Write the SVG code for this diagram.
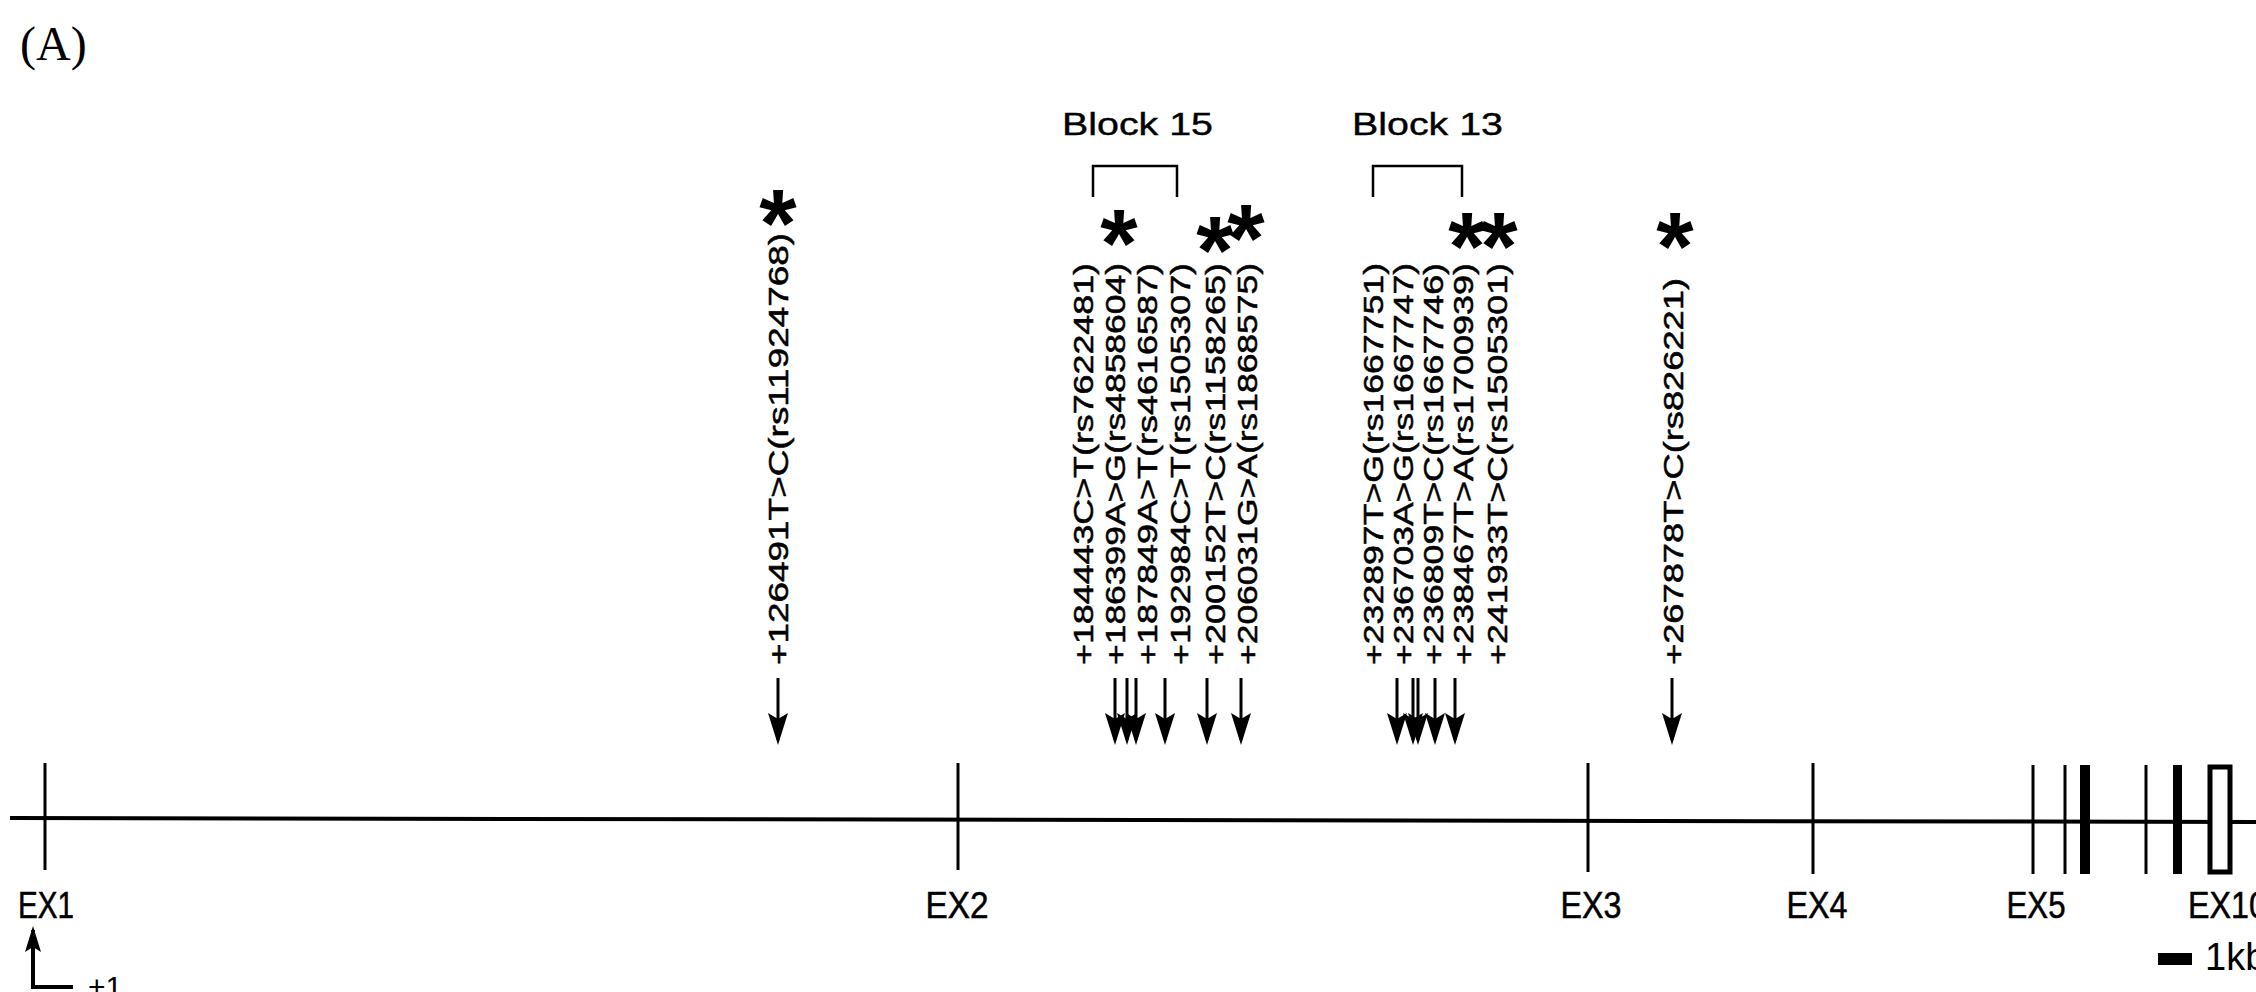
<svg xmlns="http://www.w3.org/2000/svg" width="2256" height="992" viewBox="0 0 2256 992">
<style>
  .ln{stroke:#000;fill:none}
  .tick{stroke:#000;stroke-width:3}
  .lbl{font-family:"Liberation Sans",Arial,sans-serif;font-size:28px;fill:#000;stroke:#000;stroke-width:0.5}
  .ex{font-family:"Liberation Sans",Arial,sans-serif;font-size:36px;fill:#000;stroke:#000;stroke-width:0.5;text-anchor:middle}
  .blk{font-family:"Liberation Sans",Arial,sans-serif;font-size:32px;fill:#000;stroke:#000;stroke-width:0.4}
  .ast{font-family:"Liberation Sans",Arial,sans-serif;font-size:96px;font-weight:bold;fill:#000;text-anchor:middle}
  .arr{stroke:#000;stroke-width:3;marker-end:url(#ah)}
</style>
<defs>
  <marker id="ah" viewBox="0 0 32 20" refX="27" refY="10" markerWidth="32" markerHeight="20" markerUnits="userSpaceOnUse" orient="auto">
    <path d="M0,0 L32,10 L0,20 L6,10 z" fill="#000"/>
  </marker>
  <marker id="ah2" viewBox="0 0 26 16" refX="22" refY="8" markerWidth="26" markerHeight="16" markerUnits="userSpaceOnUse" orient="auto">
    <path d="M0,0 L26,8 L0,16 L5,8 z" fill="#000"/>
  </marker>
</defs>
<rect width="2256" height="992" fill="#fff"/>

<text x="20" y="60" font-family="'Liberation Serif','Times New Roman',serif" font-size="48" fill="#000">(A)</text>

<g id="gene">
  <path class="ln" d="M10,818 L2256,822" stroke-width="4"/>
</g>

<g id="exons">
  <g id="ex1"><line class="tick" x1="45" y1="763" x2="45" y2="870"/><text class="ex" x="46" y="918" textLength="56" lengthAdjust="spacingAndGlyphs">EX1</text></g>
  <g id="ex2"><line class="tick" x1="958" y1="763" x2="958" y2="870"/><text class="ex" x="957" y="918" textLength="63" lengthAdjust="spacingAndGlyphs">EX2</text></g>
  <g id="ex3"><line class="tick" x1="1588" y1="763" x2="1588" y2="872"/><text class="ex" x="1591" y="918" textLength="61" lengthAdjust="spacingAndGlyphs">EX3</text></g>
  <g id="ex4"><line class="tick" x1="1813" y1="763" x2="1813" y2="874"/><text class="ex" x="1817" y="918" textLength="61" lengthAdjust="spacingAndGlyphs">EX4</text></g>
  <g id="ex5"><line class="tick" x1="2033" y1="765" x2="2033" y2="874"/><text class="ex" x="2036" y="918" textLength="59" lengthAdjust="spacingAndGlyphs">EX5</text></g>
  <g id="ex6"><line class="tick" x1="2065" y1="765" x2="2065" y2="874"/></g>
  <g id="ex7"><rect x="2080" y="765" width="10" height="109" fill="#000"/></g>
  <g id="ex8"><line class="tick" x1="2146" y1="765" x2="2146" y2="874"/></g>
  <g id="ex9"><rect x="2173" y="765" width="9" height="109" fill="#000"/></g>
  <g id="ex10"><rect x="2210" y="767" width="20" height="105" fill="#fff" stroke="#000" stroke-width="5"/><text x="2188" y="918" font-family="'Liberation Sans',Arial,sans-serif" font-size="36" stroke="#000" stroke-width="0.5" textLength="79" lengthAdjust="spacingAndGlyphs">EX10</text></g>
</g>

<g id="tss">
  <path class="ln" d="M33,987 L33,930" stroke-width="4" marker-end="url(#ah2)"/>
  <path class="ln" d="M31,987 L73,987" stroke-width="4"/>
  <text x="88" y="997" font-family="'Liberation Sans',Arial,sans-serif" font-size="30" fill="#000">+1</text>
</g>

<g id="scale">
  <rect x="2158" y="953" width="34" height="12" fill="#000"/>
  <text x="2205" y="970" font-family="'Liberation Sans',Arial,sans-serif" font-size="38" fill="#000">1kb</text>
</g>

<g id="block15">
  <text class="blk" x="1062" y="135" textLength="151" lengthAdjust="spacingAndGlyphs">Block 15</text>
  <path class="ln" stroke-width="2.5" d="M1093,197 L1093,166 L1177,166 L1177,197"/>
</g>
<g id="block13">
  <text class="blk" x="1352" y="135" textLength="151" lengthAdjust="spacingAndGlyphs">Block 13</text>
  <path class="ln" stroke-width="2.5" d="M1373,197 L1373,166 L1462,166 L1462,197"/>
</g>

<g id="snp-labels">
  <text class="lbl" transform="translate(788,665) rotate(-90)" textLength="432" lengthAdjust="spacingAndGlyphs">+126491T&gt;C(rs11924768)</text>
  <text class="lbl" transform="translate(1093,665) rotate(-90)" textLength="402" lengthAdjust="spacingAndGlyphs">+184443C&gt;T(rs7622481)</text>
  <text class="lbl" transform="translate(1125,665) rotate(-90)" textLength="402" lengthAdjust="spacingAndGlyphs">+186399A&gt;G(rs4858604)</text>
  <text class="lbl" transform="translate(1157,665) rotate(-90)" textLength="402" lengthAdjust="spacingAndGlyphs">+187849A&gt;T(rs4616587)</text>
  <text class="lbl" transform="translate(1190,665) rotate(-90)" textLength="402" lengthAdjust="spacingAndGlyphs">+192984C&gt;T(rs1505307)</text>
  <text class="lbl" transform="translate(1225,665) rotate(-90)" textLength="402" lengthAdjust="spacingAndGlyphs">+200152T&gt;C(rs1158265)</text>
  <text class="lbl" transform="translate(1257,665) rotate(-90)" textLength="402" lengthAdjust="spacingAndGlyphs">+206031G&gt;A(rs1868575)</text>
  <text class="lbl" transform="translate(1383,665) rotate(-90)" textLength="402" lengthAdjust="spacingAndGlyphs">+232897T&gt;G(rs1667751)</text>
  <text class="lbl" transform="translate(1413,665) rotate(-90)" textLength="402" lengthAdjust="spacingAndGlyphs">+236703A&gt;G(rs1667747)</text>
  <text class="lbl" transform="translate(1443,665) rotate(-90)" textLength="402" lengthAdjust="spacingAndGlyphs">+236809T&gt;C(rs1667746)</text>
  <text class="lbl" transform="translate(1473,665) rotate(-90)" textLength="402" lengthAdjust="spacingAndGlyphs">+238467T&gt;A(rs1700939)</text>
  <text class="lbl" transform="translate(1507,665) rotate(-90)" textLength="402" lengthAdjust="spacingAndGlyphs">+241933T&gt;C(rs1505301)</text>
  <text class="lbl" transform="translate(1683,665) rotate(-90)" textLength="387" lengthAdjust="spacingAndGlyphs">+267878T&gt;C(rs826221)</text>
</g>

<g id="asterisks">
  <text class="ast" x="778" y="256">*</text>
  <text class="ast" x="1119" y="276">*</text>
  <text class="ast"><tspan x="1215" y="283">*</tspan><tspan x="1246" y="271">*</tspan></text>
  <text class="ast"><tspan x="1467" y="279">*</tspan><tspan x="1499" y="279">*</tspan></text>
  <text class="ast" x="1675" y="279">*</text>
</g>

<g id="connectors">
  <line class="arr" x1="778" y1="678" x2="778" y2="740"/>
  <line class="arr" x1="1115" y1="678" x2="1115" y2="740"/>
  <line class="arr" x1="1127" y1="678" x2="1127" y2="740"/>
  <line class="arr" x1="1136" y1="678" x2="1136" y2="740"/>
  <line class="arr" x1="1165" y1="678" x2="1165" y2="740"/>
  <line class="arr" x1="1207" y1="678" x2="1207" y2="740"/>
  <line class="arr" x1="1241" y1="678" x2="1241" y2="740"/>
  <line class="arr" x1="1397" y1="678" x2="1397" y2="740"/>
  <line class="arr" x1="1413" y1="678" x2="1413" y2="740"/>
  <line class="arr" x1="1418" y1="678" x2="1418" y2="740"/>
  <line class="arr" x1="1435" y1="678" x2="1435" y2="740"/>
  <line class="arr" x1="1455" y1="678" x2="1455" y2="740"/>
  <line class="arr" x1="1672" y1="678" x2="1672" y2="740"/>
</g>
</svg>
